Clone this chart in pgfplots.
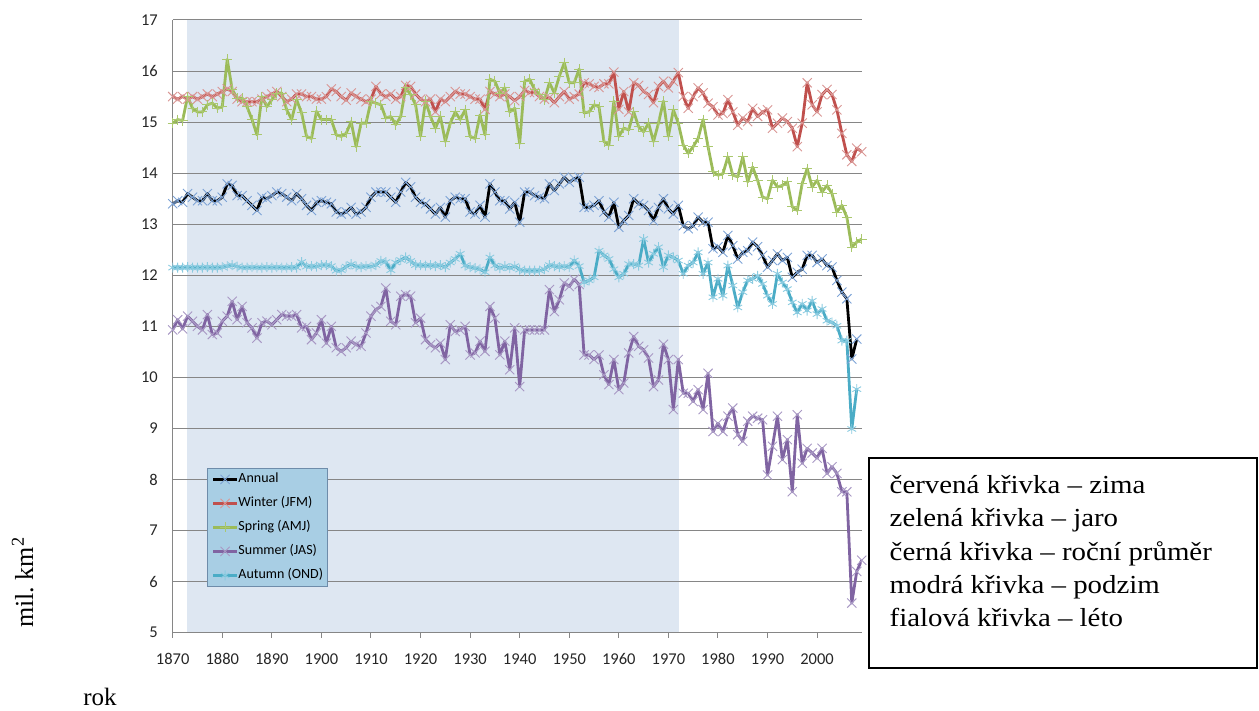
\documentclass[border=0pt]{standalone}
\usepackage{pgfplots}
\pgfplotsset{compat=1.18}
\usepackage{pgfplotstable}
\usepackage{fontspec}
\setmainfont{Liberation Serif}
\newfontfamily\calibrifont{Carlito}

\definecolor{gridgray}{RGB}{134,134,134}
\definecolor{shadecol}{RGB}{222,231,242}
\definecolor{legfill}{RGB}{168,206,228}
\definecolor{legdraw}{RGB}{110,140,170}
\definecolor{annmark}{RGB}{125,163,214}
\definecolor{wincol}{RGB}{192,80,77}
\definecolor{winmark}{RGB}{217,150,148}
\definecolor{sprcol}{RGB}{155,187,89}
\definecolor{sprmark}{RGB}{170,200,110}
\definecolor{sumcol}{RGB}{128,100,162}
\definecolor{summark}{RGB}{168,152,196}
\definecolor{autcol}{RGB}{75,172,198}
\definecolor{autmark}{RGB}{138,203,224}

\pgfplotstableread{
yr A W S M U
1870 13.40 15.50 14.98 10.93 12.15
1871 13.46 15.45 15.05 11.13 12.15
1872 13.43 15.50 15.03 10.95 12.15
1873 13.60 15.45 15.50 11.20 12.16
1874 13.53 15.50 15.27 11.10 12.15
1875 13.46 15.45 15.20 11.00 12.15
1876 13.46 15.50 15.20 10.93 12.15
1877 13.60 15.55 15.34 11.23 12.16
1878 13.46 15.50 15.37 10.84 12.15
1879 13.46 15.55 15.27 10.87 12.15
1880 13.53 15.60 15.30 11.10 12.16
1881 13.79 15.65 16.23 11.20 12.18
1882 13.76 15.60 15.64 11.49 12.20
1883 13.56 15.45 15.47 11.13 12.17
1884 13.56 15.40 15.47 11.39 12.15
1885 13.46 15.40 15.30 11.07 12.15
1886 13.37 15.40 15.05 10.97 12.16
1887 13.27 15.40 14.75 10.77 12.15
1888 13.53 15.45 15.50 11.07 12.15
1889 13.50 15.50 15.30 11.10 12.16
1890 13.56 15.55 15.44 11.03 12.15
1891 13.63 15.60 15.57 11.13 12.16
1892 13.60 15.50 15.57 11.23 12.15
1893 13.53 15.40 15.24 11.20 12.15
1894 13.46 15.45 15.05 11.20 12.16
1895 13.60 15.55 15.44 11.23 12.15
1896 13.50 15.55 15.18 10.97 12.26
1897 13.37 15.50 14.72 11.00 12.17
1898 13.27 15.50 14.68 10.74 12.18
1899 13.43 15.45 15.21 10.87 12.17
1900 13.46 15.45 15.05 11.13 12.20
1901 13.43 15.50 15.05 10.67 12.20
1902 13.40 15.65 15.05 11.00 12.18
1903 13.24 15.60 14.75 10.58 12.09
1904 13.20 15.50 14.72 10.51 12.10
1905 13.24 15.43 14.78 10.58 12.17
1906 13.33 15.57 15.01 10.71 12.22
1907 13.20 15.50 14.52 10.64 12.17
1908 13.24 15.45 14.98 10.61 12.16
1909 13.33 15.40 14.98 10.87 12.18
1910 13.53 15.45 15.41 11.20 12.17
1911 13.63 15.70 15.37 11.33 12.20
1912 13.63 15.55 15.34 11.39 12.28
1913 13.63 15.50 15.08 11.75 12.26
1914 13.53 15.55 15.11 11.10 12.10
1915 13.43 15.45 14.95 11.03 12.25
1916 13.63 15.50 15.11 11.59 12.30
1917 13.82 15.72 15.67 11.62 12.35
1918 13.73 15.70 15.54 11.59 12.28
1919 13.53 15.55 15.34 11.07 12.20
1920 13.43 15.45 14.72 11.16 12.20
1921 13.40 15.40 15.41 10.74 12.19
1922 13.30 15.45 15.11 10.64 12.20
1923 13.20 15.20 14.88 10.58 12.18
1924 13.33 15.45 15.11 10.67 12.20
1925 13.14 15.40 14.62 10.35 12.16
1926 13.46 15.50 14.98 11.03 12.25
1927 13.53 15.60 15.20 10.90 12.32
1928 13.50 15.55 15.05 10.93 12.42
1929 13.50 15.55 15.24 11.00 12.19
1930 13.24 15.50 14.72 10.44 12.16
1931 13.20 15.45 14.68 10.48 12.14
1932 13.37 15.45 15.14 10.71 12.12
1933 13.14 15.25 14.75 10.51 12.06
1934 13.79 15.60 15.84 11.39 12.35
1935 13.63 15.55 15.80 11.16 12.19
1936 13.46 15.50 15.57 10.44 12.14
1937 13.46 15.55 15.67 10.71 12.18
1938 13.30 15.50 15.20 10.15 12.14
1939 13.43 15.42 15.27 10.97 12.18
1940 13.04 15.50 14.58 9.82 12.11
1941 13.63 15.62 15.80 10.93 12.09
1942 13.63 15.58 15.84 10.93 12.09
1943 13.56 15.58 15.64 10.93 12.09
1944 13.53 15.50 15.54 10.93 12.09
1945 13.50 15.45 15.44 10.93 12.12
1946 13.79 15.48 15.77 11.72 12.20
1947 13.66 15.38 15.57 11.29 12.18
1948 13.79 15.50 15.90 11.52 12.16
1949 13.92 15.60 16.16 11.85 12.18
1950 13.82 15.45 15.77 11.78 12.16
1951 13.89 15.50 15.77 11.92 12.29
1952 13.92 15.55 16.04 11.82 12.18
1953 13.33 15.77 15.18 10.44 11.86
1954 13.33 15.75 15.20 10.44 11.90
1955 13.37 15.70 15.34 10.35 11.96
1956 13.46 15.68 15.30 10.44 12.48
1957 13.24 15.75 14.62 10.05 12.39
1958 13.14 15.75 14.55 9.86 12.32
1959 13.43 15.98 15.41 10.35 12.12
1960 12.94 15.25 14.72 9.76 11.96
1961 13.07 15.60 14.88 9.89 12.03
1962 13.17 15.20 14.85 10.48 12.22
1963 13.50 15.77 15.20 10.80 12.22
1964 13.40 15.72 14.91 10.61 12.19
1965 13.37 15.60 14.81 10.54 12.71
1966 13.27 15.54 14.98 10.38 12.25
1967 13.07 15.38 14.62 9.82 12.42
1968 13.33 15.70 14.98 9.95 12.55
1969 13.50 15.80 15.41 10.65 12.16
1970 13.30 15.67 14.72 10.35 12.39
1971 13.20 15.80 15.24 9.37 12.35
1972 13.37 15.97 14.98 10.35 12.29
1973 12.97 15.50 14.55 9.69 12.03
1974 12.91 15.27 14.39 9.69 12.19
1975 12.97 15.50 14.52 9.53 12.25
1976 13.14 15.67 14.68 9.76 12.45
1977 13.04 15.57 15.05 9.37 12.03
1978 13.04 15.37 14.52 10.08 12.25
1979 12.52 15.30 14.03 8.94 11.57
1980 12.56 15.14 13.96 9.10 11.93
1981 12.45 15.17 13.99 8.94 11.60
1982 12.78 15.44 14.32 9.24 12.19
1983 12.58 15.20 13.96 9.40 11.80
1984 12.32 14.94 13.93 8.88 11.37
1985 12.45 15.08 14.32 8.75 11.67
1986 12.48 15.01 13.83 9.14 11.90
1987 12.65 15.27 14.12 9.24 11.93
1988 12.56 15.11 13.86 9.20 11.99
1989 12.39 15.20 13.53 9.17 11.83
1990 12.16 15.24 13.50 8.09 11.60
1991 12.29 14.88 13.86 8.65 11.44
1992 12.42 14.98 13.73 9.24 12.03
1993 12.29 15.08 13.76 8.39 11.86
1994 12.35 15.01 13.83 8.78 11.73
1995 11.96 14.88 13.34 7.76 11.47
1996 12.06 14.52 13.27 9.27 11.27
1997 12.12 14.98 13.80 8.32 11.44
1998 12.39 15.77 14.09 8.61 11.31
1999 12.39 15.34 13.73 8.52 11.50
2000 12.25 15.20 13.86 8.42 11.24
2001 12.32 15.54 13.63 8.61 11.34
2002 12.19 15.64 13.76 8.12 11.11
2003 12.16 15.54 13.60 8.25 11.08
2004 11.90 15.24 13.24 8.12 11.01
2005 11.67 14.78 13.37 7.76 10.72
2006 11.54 14.36 13.14 7.76 10.72
2007 10.36 14.23 12.55 5.58 8.99
2008 10.75 14.49 12.65 6.20 9.77
2009 nan 14.42 12.71 6.42 nan
}\datatable

\begin{document}
\begin{tikzpicture}
\path (0pt,0pt) rectangle (1259pt,-711pt);
\begin{axis}[
  set layers,
  at={(172.7pt,-632.7pt)}, anchor=south west,
  scale only axis, width=689pt, height=612.7pt,
  xmin=1870, xmax=2009, ymin=5, ymax=17,
  axis x line*=bottom, axis y line*=left,
  axis line style={draw=gridgray, line width=1pt},
  xtick={1870,1880,...,2000}, ytick={5,6,...,17},
  tick align=outside, major tick length=5pt,
  xtick style={draw=gridgray, line width=1pt},
  ytick style={draw=none},
  ymajorgrids, grid style={draw=gridgray, line width=1pt},
  /pgf/number format/1000 sep={},
  /pgf/number format/assume math mode=true,
  tick label style={font=\calibrifont\fontsize{16.5}{19}\selectfont, text=black!85, inner sep=0pt},
  xticklabel style={yshift=-15.6pt},
  yticklabel style={xshift=-9.7pt},
  every axis plot/.append style={line width=2.8pt, line join=round},
  legend cell align=left,
  legend image code/.code={\draw[mark repeat=2,mark phase=2,#1] plot coordinates {(0pt,0pt) (12pt,0pt) (24pt,0pt)};},
  legend style={at={(0.0502,0.2688)}, anchor=north west,
    fill=legfill, draw=legdraw, line width=0.8pt,
    font=\calibrifont\fontsize{14}{16}\selectfont,
    inner xsep=4pt, inner ysep=5pt, row sep=12pt,
    nodes={inner sep=0pt, text height=9.5pt, text depth=2.5pt}},
]
\addplot[fill=shadecol, draw=none, line width=0pt, mark=none, forget plot, on layer=axis background] coordinates {(1872.8,17) (1972.1,17)} \closedcycle;
\addplot[color=black, mark=x, mark size=6.5pt, mark options={draw=annmark, line width=0.9pt, solid}] table[x=yr, y=A]{\datatable};
\addlegendentry{Annual}
\addplot[color=wincol, mark=x, mark size=6.5pt, mark options={draw=winmark, line width=0.9pt, solid}] table[x=yr, y=W]{\datatable};
\addlegendentry{Winter (JFM)}
\addplot[color=sprcol, mark=+, mark size=5pt, mark options={draw=sprmark, line width=0.9pt, solid}] table[x=yr, y=S]{\datatable};
\addlegendentry{Spring (AMJ)}
\addplot[color=sumcol, mark=x, mark size=6.5pt, mark options={draw=summark, line width=0.9pt, solid}] table[x=yr, y=M]{\datatable};
\addlegendentry{Summer (JAS)}
\addplot[color=autcol, mark=asterisk, mark size=5pt, mark options={draw=autmark, line width=0.9pt, solid}] table[x=yr, y=U]{\datatable};
\addlegendentry{Autumn (OND)}
\end{axis}
\draw[line width=1.5pt] (869pt,-458pt) rectangle (1257pt,-668pt);
\node[anchor=base west, inner sep=0pt, xscale=1.11, font=\fontsize{26}{33}\selectfont] at (889.5pt,-493.3pt) {červená křivka – zima};
\node[anchor=base west, inner sep=0pt, xscale=1.11, font=\fontsize{26}{33}\selectfont] at (889.5pt,-526.7pt) {zelená křivka – jaro};
\node[anchor=base west, inner sep=0pt, xscale=1.11, font=\fontsize{26}{33}\selectfont] at (889.5pt,-560.0pt) {černá křivka – roční průměr};
\node[anchor=base west, inner sep=0pt, xscale=1.11, font=\fontsize{26}{33}\selectfont] at (889.5pt,-593.3pt) {modrá křivka – podzim};
\node[anchor=base west, inner sep=0pt, xscale=1.11, font=\fontsize{26}{33}\selectfont] at (889.5pt,-626.7pt) {fialová křivka – léto};
\node[rotate=90, anchor=base, inner sep=0pt, font=\fontsize{26}{30}\selectfont] at (33pt,-582.5pt) {mil.\ km\textsuperscript{2}};
\node[anchor=base, inner sep=0pt, font=\fontsize{25}{30}\selectfont] at (100pt,-705pt) {rok};
\end{tikzpicture}
\end{document}
